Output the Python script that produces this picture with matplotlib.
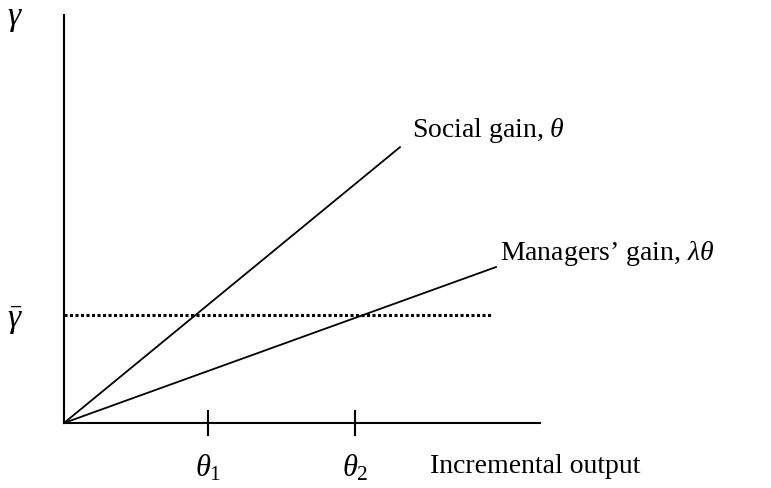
import matplotlib.pyplot as plt

plt.rcParams['mathtext.fontset'] = 'custom'
plt.rcParams['mathtext.rm'] = 'Liberation Serif'
plt.rcParams['mathtext.it'] = 'Liberation Serif:italic'
plt.rcParams['font.family'] = 'Liberation Serif'

# diagram values (arbitrary units, origin at 0)
x_axis_end = 4.76
y_axis_top = 4.08
social_x = [0, 3.36]
social_slope = 0.821
managers_x = [0, 4.32]
managers_slope = 0.361
gamma_bar = 1.08
dotted_end = 4.28
theta_ticks = [1.44, 2.91]
theta_labels = [r'$\theta_1$', r'$\theta_2$']

fig = plt.figure(figsize=(7.71, 4.89), dpi=100)
ax = fig.add_axes([0, 0, 1, 1])
ax.set_xlim(-0.64, 7.07)
ax.set_ylim(-0.65, 4.24)
ax.axis('off')

fs = 20
fs_math = 22

# axes
ax.plot([0, x_axis_end], [0, 0], color='black', lw=1.5)
ax.plot([0, 0], [0, y_axis_top], color='black', lw=1.5)

# gain lines
ax.plot(social_x, [social_slope * x for x in social_x], color='black', lw=1.3)
ax.plot(managers_x, [managers_slope * x for x in managers_x], color='black', lw=1.3)

# reservation level
ax.plot([0, dotted_end], [gamma_bar, gamma_bar], color='black', lw=2.2,
        linestyle=(0, (1, 0.8)))

# ticks on x axis
for t, lab in zip(theta_ticks, theta_labels):
    ax.plot([t, t], [-0.12, 0.12], color='black', lw=1.5)
    ax.text(t, -0.44, lab, fontsize=fs_math, ha='center', va='center')

ax.text(-0.49, 4.05, r'$\gamma$', fontsize=fs_math + 2, ha='center', va='center')
ax.text(-0.49, 1.03, r'$\bar{\gamma}$', fontsize=fs_math + 2, ha='center', va='center')
ax.text(3.48, 2.94, r'Social gain, $\theta$', fontsize=fs, ha='left', va='center')
ax.text(4.36, 1.70, 'Managers\u2019 gain, $\\lambda\\theta$', fontsize=fs,
        ha='left', va='center')
ax.text(3.66, -0.43, 'Incremental output', fontsize=fs, ha='left', va='center')

fig.savefig('out.png', dpi=100)
